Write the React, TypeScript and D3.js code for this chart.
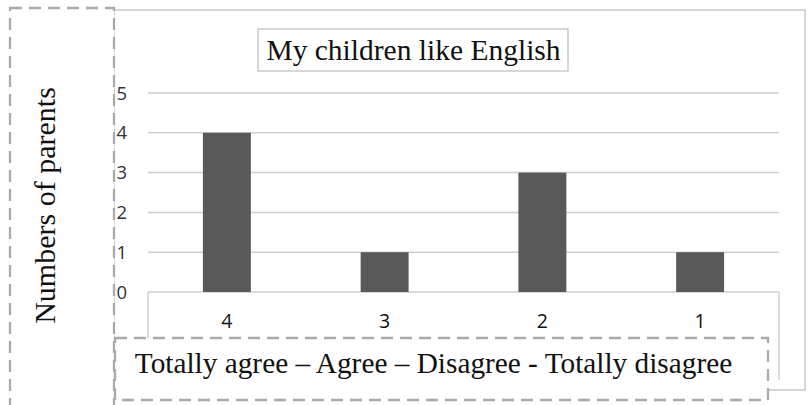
import React from "react";
import * as d3 from "d3";

const categories = ["4", "3", "2", "1"];
const values = [4, 1, 3, 1];
const yTicks = [0, 1, 2, 3, 4, 5];
const title = "My children like English";
const yTitle = "Numbers of parents";
const xTitle = "Totally agree \u2013 Agree \u2013 Disagree - Totally disagree";

export default function App() {
  const W = 808, H = 405;
  const x = d3.scaleBand<string>().domain(categories).range([148, 779]).paddingInner(0.696).paddingOuter(0.348);
  const y = d3.scaleLinear().domain([0, 5]).range([292, 93]);
  const serif = "'Liberation Serif', 'Times New Roman', serif";
  const sans = "'Open Sans', 'Liberation Sans', sans-serif";
  const dash = "12,7";
  const dashColor = "#aaaaaa";
  return (
    <svg width={W} height={H} style={{ position: "absolute", left: 0, top: 0, background: "#fff" }}>
      {/* outer frame */}
      <rect x={114} y={10} width={691} height={380} fill="#fff" stroke="#c9c9c9" strokeWidth={1.5} />
      {/* title box */}
      <rect x={258} y={29} width={310} height={42} fill="#fff" stroke="#bdbdbd" strokeWidth={1.2} />
      <text x={413.5} y={60} textAnchor="middle" style={{ fontFamily: serif, fontSize: "29.5px" }} fill="#111">{title}</text>
      {/* gridlines */}
      {yTicks.map((t) => (
        <line key={t} x1={148} x2={779} y1={y(t)} y2={y(t)} stroke="#cfcfcf" strokeWidth={1.5} />
      ))}
      {/* category axis box */}
      <line x1={148} x2={148} y1={y(0)} y2={380} stroke="#cfcfcf" strokeWidth={1.5} />
      <line x1={779} x2={779} y1={y(0)} y2={380} stroke="#cfcfcf" strokeWidth={1.5} />
      {/* bars */}
      {categories.map((c, i) => (
        <rect key={c} x={x(c)} y={y(values[i])} width={x.bandwidth()} height={y(0) - y(values[i])} fill="#595959" />
      ))}
      {/* y tick labels */}
      {yTicks.map((t) => (
        <text key={t} x={116.5} y={y(t)} dy="0.36em" style={{ fontFamily: sans, fontSize: "18.5px" }} fill="#333">{t}</text>
      ))}
      {/* category labels */}
      {categories.map((c) => (
        <text key={c} x={(x(c) as number) + x.bandwidth() / 2} y={327.5} textAnchor="middle" style={{ fontFamily: sans, fontSize: "19.5px" }} fill="#111">{c}</text>
      ))}
      {/* left dashed box */}
      <rect x={10} y={8} width={104} height={420} fill="#fff" stroke={dashColor} strokeWidth={2.3} strokeDasharray={dash} />
      <text transform={`translate(55,205.5) rotate(-90)`} textAnchor="middle" style={{ fontFamily: serif, fontSize: "30px" }} fill="#111">{yTitle}</text>
      {/* x title dashed box */}
      <rect x={115} y={338} width={653} height={62} fill="#fff" stroke={dashColor} strokeWidth={2.3} strokeDasharray={dash} />
      <text x={433.5} y={373} textAnchor="middle" style={{ fontFamily: serif, fontSize: "29.3px" }} fill="#111">{xTitle}</text>
    </svg>
  );
}
